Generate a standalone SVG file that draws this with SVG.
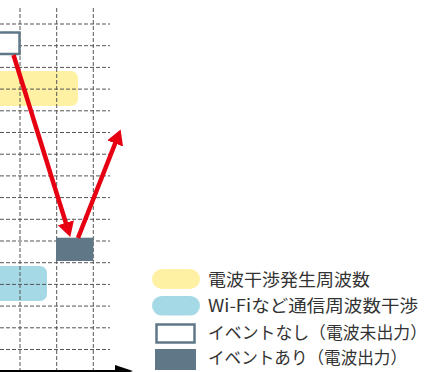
<svg xmlns="http://www.w3.org/2000/svg" width="430" height="372" viewBox="0 0 430 372">
<style>
.grid{stroke:#555;stroke-width:1;stroke-dasharray:4 2;fill:none}
.red{stroke:#e60012;stroke-width:4.5;fill:none}
.lbl{font-family:"Noto Sans CJK JP","Noto Sans",sans-serif;font-size:17px;fill:#333}
.yellow{fill:#fff1a3}
.blue{fill:#a5d9e6}
.empty{fill:#fff;stroke:#5f7887;stroke-width:2.5}
.filled{fill:#5f7786}
</style>
<defs>
<marker id="rh" viewBox="0 0 15 17" refX="1" refY="8.5" markerWidth="15" markerHeight="17" markerUnits="userSpaceOnUse" orient="auto">
<path d="M0,0 L15,8.5 L0,17 z" fill="#e60012"/>
</marker>
<marker id="ah" viewBox="0 0 18 12" refX="1" refY="6" markerWidth="18" markerHeight="12" markerUnits="userSpaceOnUse" orient="auto">
<path d="M0,0 L18,6 L0,12 z" fill="#000"/>
</marker>
</defs>
<g id="bands">
<rect id="band-yellow" class="yellow" x="-10" y="71" width="88" height="35" rx="7"/>
<rect id="band-blue" class="blue" x="-10" y="266" width="57" height="35" rx="7"/>
</g>
<g id="grid">
<path class="grid" d="M20,8V371 M56.7,8V371 M93.3,8V371"/>
<path class="grid" d="M0,24H110 M0,45.7H110 M0,67.4H110 M0,89.1H110 M0,110.8H110 M0,132.5H110 M0,154.2H110 M0,175.9H110 M0,197.6H110 M0,219.3H110 M0,241H110 M0,262.7H110 M0,284.4H110 M0,306.1H110 M0,327.8H110 M0,349.5H110"/>
</g>
<g id="node-none">
<rect class="empty" x="-10" y="32.5" width="29.5" height="21.5"/>
</g>
<g id="node-event">
<rect class="filled" x="56" y="237.7" width="37.3" height="23.3"/>
</g>
<g id="connectors">
<line class="red" x1="13.5" y1="55" x2="66.1" y2="223.7" marker-end="url(#rh)"/>
<line class="red" x1="78" y1="238" x2="115.5" y2="142.5" marker-end="url(#rh)"/>
<line stroke="#000" stroke-width="2" x1="0" y1="371" x2="116" y2="371" marker-end="url(#ah)"/>
</g>
<g id="legend">
<g id="legend-yellow"><rect class="yellow" x="152" y="269" width="48" height="20" rx="10"/><text class="lbl" x="208" y="286" textLength="162" lengthAdjust="spacingAndGlyphs">電波干渉発生周波数</text></g>
<g id="legend-blue"><rect class="blue" x="152" y="296" width="48" height="19.5" rx="9.75"/><text class="lbl" x="208" y="312" textLength="210" lengthAdjust="spacingAndGlyphs">Wi-Fiなど通信周波数干渉</text></g>
<g id="legend-none"><rect class="empty" x="156.5" y="324.5" width="38" height="18"/><text class="lbl" x="208" y="339" textLength="219" lengthAdjust="spacingAndGlyphs">イベントなし（電波未出力）</text></g>
<g id="legend-event"><rect class="filled" x="155" y="349" width="41" height="21"/><text class="lbl" x="208" y="364" textLength="199" lengthAdjust="spacingAndGlyphs">イベントあり（電波出力）</text></g>
</g>
</svg>
